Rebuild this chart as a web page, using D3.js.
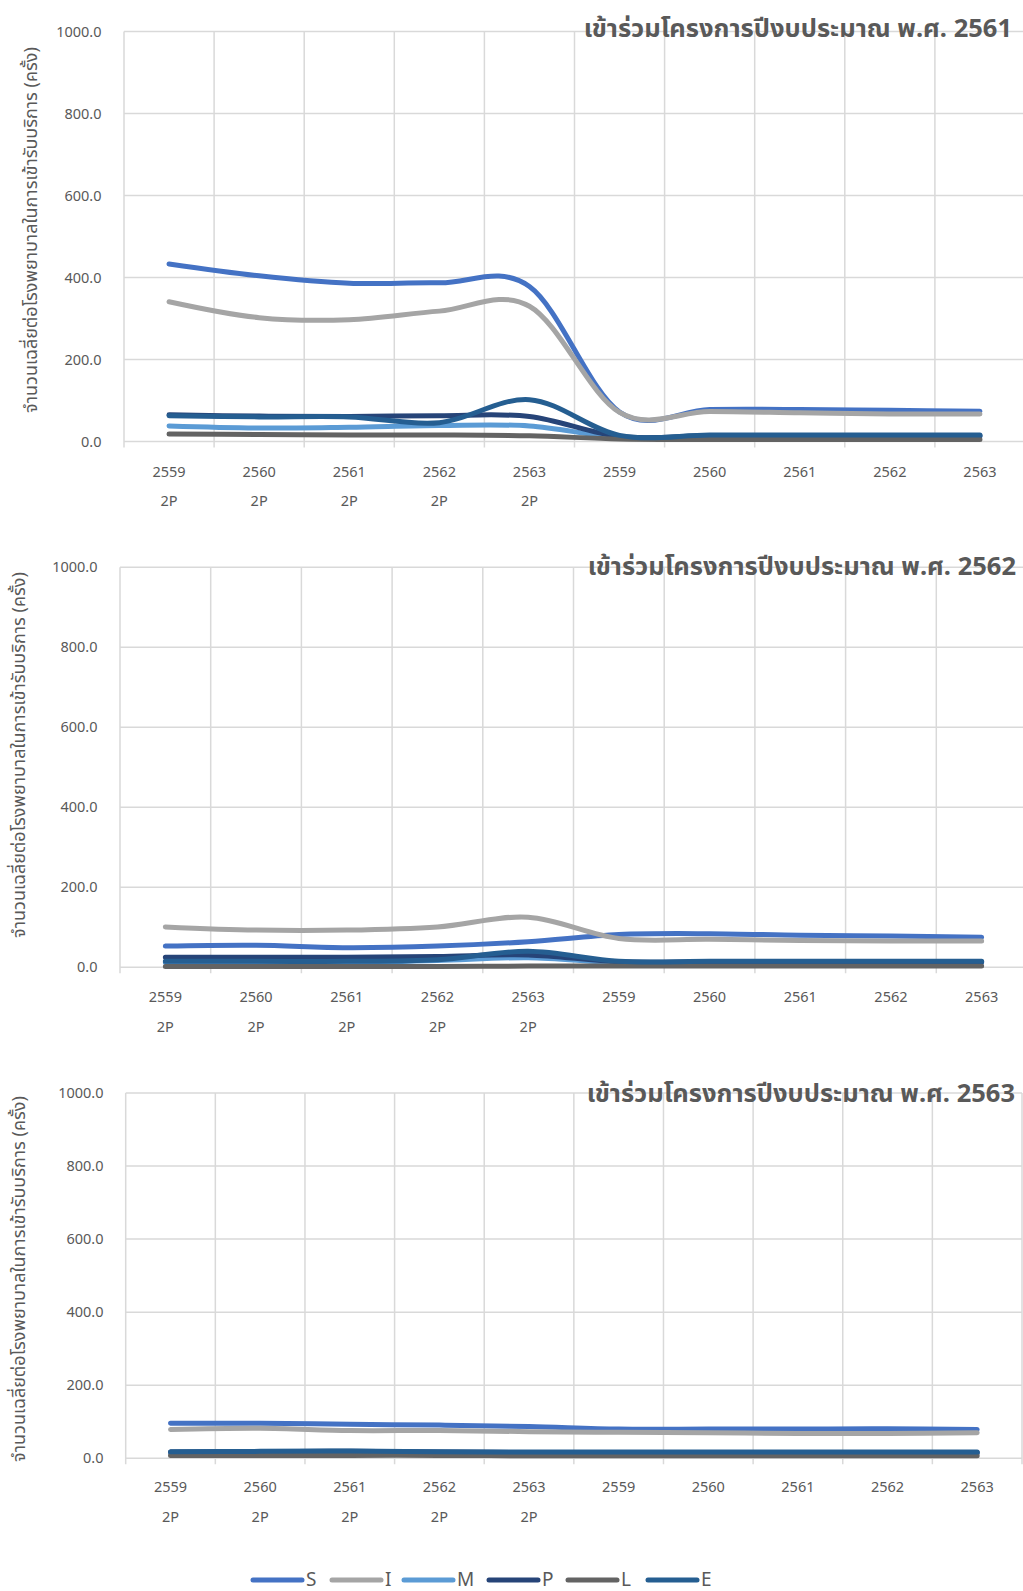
<!DOCTYPE html>
<html>
<head>
<meta charset="utf-8">
<script src="https://cdn.jsdelivr.net/npm/d3@7"></script>
<style>
  html, body { margin: 0; padding: 0; background: #fff; }
  svg { display: block; }
  text { font-family: "Noto Sans", "Noto Sans Thai", "DejaVu Sans", sans-serif; }
</style>
</head>
<body>
<svg id="chart" width="1023" height="1591"></svg>
<script>
// Category axis: fiscal year, with a second label row on the first five groups
const yearLabels = ["2559", "2560", "2561", "2562", "2563", "2559", "2560", "2561", "2562", "2563"];
const subLabels = ["2P", "2P", "2P", "2P", "2P", "", "", "", "", ""];
const yTicks = [0, 200, 400, 600, 800, 1000];

const seriesNames = ["S", "I", "M", "P", "L", "E"];
const seriesColors = ["#4472C4", "#A5A5A5", "#5B9BD5", "#264478", "#636363", "#255E91"];

const yAxisTitle = "จำนวนเฉลี่ยต่อโรงพยาบาลในการเข้ารับบริการ (ครั้ง)";
const chartTitles = [
  "เข้าร่วมโครงการปีงบประมาณ พ.ศ. 2561",
  "เข้าร่วมโครงการปีงบประมาณ พ.ศ. 2562",
  "เข้าร่วมโครงการปีงบประมาณ พ.ศ. 2563"
];

// Fiscal year 2561 cohort
const fy2561_S = [433, 404, 386, 387, 378, 72, 78, 78, 76, 74];
const fy2561_I = [341, 302, 297, 318, 330, 71, 73, 70, 67, 67];
const fy2561_M = [38, 33, 35, 39, 38, 10, 12, 12, 12, 12];
const fy2561_P = [65, 62, 61, 63, 61, 12, 14, 14, 14, 14];
const fy2561_L = [18, 17, 16, 16, 14, 6, 5, 5, 5, 5];
const fy2561_E = [63, 60, 60, 46, 102, 15, 16, 16, 16, 16];

// Fiscal year 2562 cohort
const fy2562_S = [53, 55, 49, 53, 64, 82, 84, 80, 78, 75];
const fy2562_I = [101, 93, 93, 101, 125, 72, 70, 67, 66, 66];
const fy2562_M = [12, 12, 12, 17, 24, 12, 12, 12, 12, 12];
const fy2562_P = [25, 25, 25, 27, 31, 14, 14, 14, 14, 14];
const fy2562_L = [2, 2, 2, 2, 3, 3, 3, 3, 3, 3];
const fy2562_E = [15, 15, 15, 19, 40, 15, 15, 15, 15, 15];

// Fiscal year 2563 cohort
const fy2563_S = [96, 96, 93, 91, 87, 80, 80, 80, 81, 79];
const fy2563_I = [79, 82, 76, 76, 73, 71, 70, 68, 68, 70];
const fy2563_M = [14, 15, 15, 14, 14, 14, 14, 14, 14, 14];
const fy2563_P = [17, 18, 19, 17, 16, 16, 16, 16, 16, 16];
const fy2563_L = [8, 8, 8, 8, 7, 7, 7, 7, 7, 7];
const fy2563_E = [18, 19, 20, 18, 17, 17, 17, 17, 17, 17];

const panels = [
  { title: chartTitles[0], series: [fy2561_S, fy2561_I, fy2561_M, fy2561_P, fy2561_L, fy2561_E],
    left: 124, right: 1025, top: 31.5, bottom: 441.5, tickX: 101.5, axisTitleX: 30.5, axisTitleY: 230,
    titleX: 1012, titleY: 28, yearY: 471.7, subY: 500.7 },
  { title: chartTitles[1], series: [fy2562_S, fy2562_I, fy2562_M, fy2562_P, fy2562_L, fy2562_E],
    left: 120, right: 1027, top: 567.3, bottom: 967.3, tickX: 97.5, axisTitleX: 18.5, axisTitleY: 755,
    titleX: 1016, titleY: 566, yearY: 996.7, subY: 1026.7 },
  { title: chartTitles[2], series: [fy2563_S, fy2563_I, fy2563_M, fy2563_P, fy2563_L, fy2563_E],
    left: 125.7, right: 1022, top: 1093, bottom: 1458.3, tickX: 103.5, axisTitleX: 18.5, axisTitleY: 1279,
    titleX: 1015, titleY: 1093, yearY: 1487, subY: 1517 }
];

const svg = d3.select("#chart");
const gridColor = "#d9d9d9";
const textColor = "#595959";

panels.forEach(p => {
  const g = svg.append("g");
  const x = d3.scaleBand().domain(d3.range(yearLabels.length)).range([p.left, p.right]);
  const y = d3.scaleLinear().domain([0, 1000]).range([p.bottom, p.top]);

  // horizontal gridlines
  g.selectAll("line.h").data(yTicks).join("line")
    .attr("x1", p.left).attr("x2", p.right)
    .attr("y1", d => y(d)).attr("y2", d => y(d))
    .attr("stroke", gridColor).attr("stroke-width", 1.5);

  // vertical gridlines at category boundaries, with tick marks below the base
  const bounds = d3.range(yearLabels.length + 1).map(i => i < yearLabels.length ? x(i) : p.right);
  g.selectAll("line.v").data(bounds).join("line")
    .attr("x1", d => d).attr("x2", d => d)
    .attr("y1", p.top).attr("y2", p.bottom + 6)
    .attr("stroke", gridColor).attr("stroke-width", 1.5);

  // value labels
  g.selectAll("text.yt").data(yTicks).join("text")
    .attr("x", p.tickX).attr("y", d => y(d))
    .attr("dy", "0.35em").attr("text-anchor", "end")
    .attr("font-size", 14.5).attr("fill", textColor)
    .text(d => d3.format(".1f")(d));

  // category labels
  g.selectAll("text.yr").data(yearLabels).join("text")
    .attr("x", (d, i) => x(i) + x.bandwidth() / 2).attr("y", p.yearY)
    .attr("dy", "0.35em").attr("text-anchor", "middle")
    .attr("font-size", 14.5).attr("fill", textColor)
    .text(d => d);
  g.selectAll("text.sub").data(subLabels).join("text")
    .attr("x", (d, i) => x(i) + x.bandwidth() / 2).attr("y", p.subY)
    .attr("dy", "0.35em").attr("text-anchor", "middle")
    .attr("font-size", 14.5).attr("fill", textColor)
    .text(d => d);

  // smoothed series lines
  const line = d3.line()
    .x((d, i) => x(i) + x.bandwidth() / 2)
    .y(d => y(d))
    .curve(d3.curveCardinal.tension(0));
  g.selectAll("path.series").data(p.series).join("path")
    .attr("d", d => line(d))
    .attr("fill", "none")
    .attr("stroke", (d, i) => seriesColors[i])
    .attr("stroke-width", 5)
    .attr("stroke-linecap", "round")
    .attr("stroke-linejoin", "round");

  // vertical axis title
  g.append("text")
    .attr("transform", `translate(${p.axisTitleX},${p.axisTitleY}) rotate(-90)`)
    .attr("text-anchor", "middle").attr("dy", "0.35em")
    .attr("font-size", 18).attr("fill", textColor)
    .text(yAxisTitle);

  // chart title
  g.append("text")
    .attr("x", p.titleX).attr("y", p.titleY)
    .attr("dy", "0.35em").attr("text-anchor", "end")
    .attr("font-size", 25.5).attr("font-weight", "bold").attr("fill", textColor)
    .text(p.title);
});

// legend
const legendStart = [253, 332, 404, 489, 568, 648];
const legend = svg.append("g");
const items = legend.selectAll("g").data(seriesNames).join("g")
  .attr("transform", (d, i) => `translate(${legendStart[i]},1580)`);
items.append("line")
  .attr("x1", 0).attr("x2", 49).attr("y1", 0).attr("y2", 0)
  .attr("stroke", (d, i) => seriesColors[i])
  .attr("stroke-width", 5).attr("stroke-linecap", "round");
items.append("text")
  .attr("x", 53).attr("y", 0).attr("dy", "0.3em")
  .attr("font-size", 19).attr("fill", textColor)
  .text(d => d);
</script>
</body>
</html>
